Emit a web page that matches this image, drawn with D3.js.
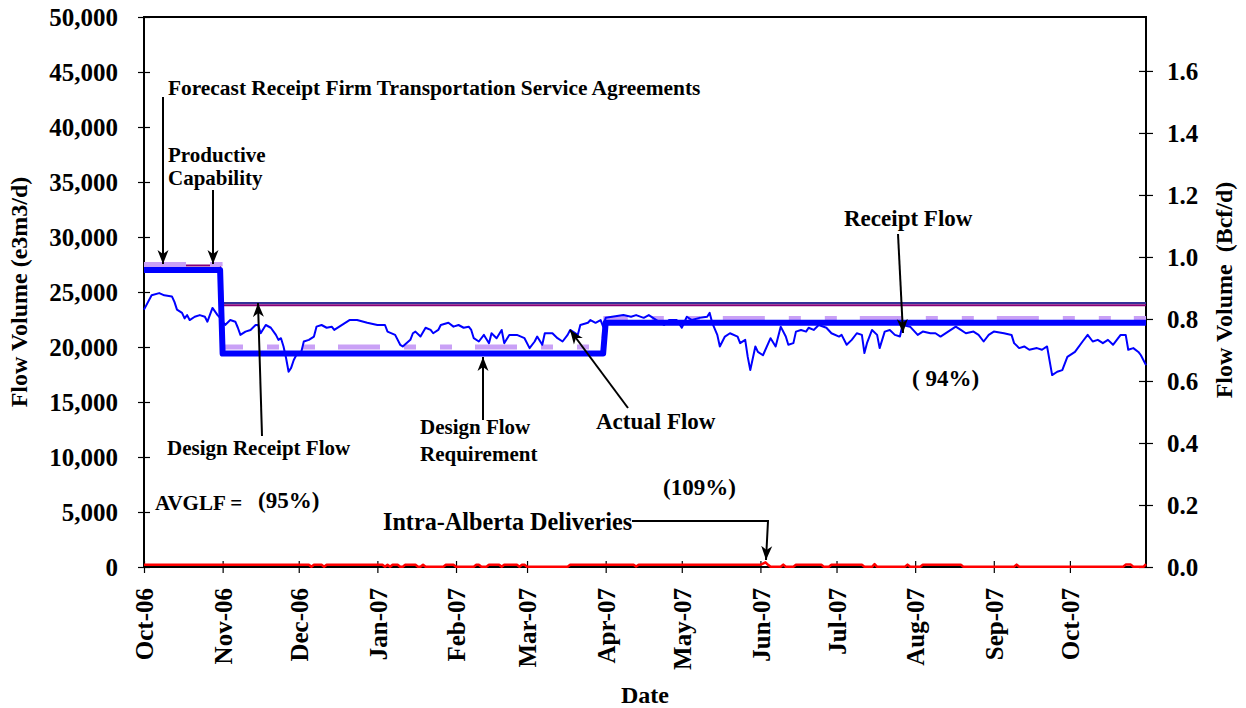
<!DOCTYPE html>
<html><head><meta charset="utf-8">
<script src="https://cdn.jsdelivr.net/npm/d3@7"></script>
<style>
body{margin:0;background:#fff}
text{font-family:"Liberation Serif","Times New Roman",serif;font-weight:bold;fill:#000}
</style>
</head><body>
<svg id="chart" width="1246" height="708"></svg>
<script>
// ---------- DATA (day = days since 1 Oct 2006) ----------
const startDate = "2006-10-01";
const endDate = "2007-10-31";
const monthTicks = ["2006-10-01","2006-11-01","2006-12-01","2007-01-01","2007-02-01","2007-03-01","2007-04-01","2007-05-01","2007-06-01","2007-07-01","2007-08-01","2007-09-01","2007-10-01"];
const leftTicks = [0,5000,10000,15000,20000,25000,30000,35000,40000,45000,50000];
const rightTicks = [0,0.2,0.4,0.6,0.8,1.0,1.2,1.4,1.6];

// Design receipt flow / design flow requirement (thick blue step)
const designDay   = [0, 30, 31, 181, 182, 395];
const designValue = [27000, 27000, 19400, 19400, 22200, 22200];

// Forecast receipt firm transportation service agreements (lavender dashed)
const forecastDay   = [0, 30, 31, 181, 182, 395];
const forecastValue = [27500, 27500, 20000, 20000, 22600, 22600];

// Productive capability (purple) and receipt capacity (navy)
const productiveDay   = [0, 30, 31, 395];
const productiveValue = [27400, 27400, 23800, 23800];
const capacityDay   = [31, 395];
const capacityValue = [24000, 24000];

// Actual flow (thin blue)
const actualDay = [0,3,6,8,11,12,13,15,16,17,18,20,22,24,25,27,29,30,32,34,36,37,38,40,42,44,45,46,48,50,52,53,54,55,56,57,58,59,60,62,63,65,67,68,70,72,74,75,77,81,84,88,92,95,96,99,101,102,105,106,107,109,111,113,114,116,117,120,122,124,126,128,129,130,132,134,136,137,139,141,142,144,147,150,152,154,155,157,158,161,163,165,167,168,171,172,175,176,178,180,181,182,189,192,194,197,199,202,205,207,210,212,214,216,219,222,223,224,226,227,229,231,234,235,237,238,239,241,242,244,247,249,251,253,254,256,257,259,261,262,264,266,269,271,274,275,277,279,281,283,284,285,287,289,290,292,294,296,298,299,302,305,307,310,312,314,317,320,322,324,327,329,331,333,335,339,342,343,345,347,349,352,354,356,358,360,362,364,367,370,372,374,376,378,380,382,385,387,388,390,392,393,395];
const actualValue = [23400,24700,24900,24700,24600,24100,23400,23100,22600,22900,22450,22750,22900,22750,22300,23550,22900,22650,22000,22450,22300,21750,21100,21400,21550,22000,22000,21250,22000,21750,21100,20650,20800,20050,19000,17750,18100,18800,19250,19550,20500,20650,20950,21850,22000,21750,21850,21550,21850,22450,22450,22200,22000,22000,21400,21100,20200,20050,20650,21250,21400,20950,21750,21550,21250,21550,22000,22200,21850,22000,21750,21850,21550,20800,20500,21100,20350,21250,20800,21550,20350,21100,21100,20800,19900,20500,20950,20200,21250,21250,20800,20500,21100,21550,21100,22000,22200,22450,22200,22450,21850,22650,22900,22750,22900,22650,22900,22450,22000,22450,22450,21750,22750,22450,22650,22750,23100,22200,21100,20050,20950,21250,20950,20350,20650,19100,17900,20050,19550,19250,20800,20050,21850,20950,20200,20350,21400,21550,21400,21750,21550,22000,21750,21250,20950,21100,20200,20650,21250,21100,19450,20350,21550,21100,19900,21400,21550,21100,20950,22000,21850,21100,21400,21250,21250,20950,21400,21850,21550,21250,21400,21100,20500,21100,21400,21250,21100,20350,19900,20050,19750,19900,19750,20050,17450,17750,17900,19100,19550,20500,21100,20500,20650,20350,20650,20200,21100,21100,19750,19900,19550,19250,18350];

// Intra-Alberta deliveries (red)
const intraDay   = [0,65,66,67,70,71,72,94,95,96,97,98,100,101,102,103,107,108,109,110,111,118,119,122,123,130,131,132,133,135,136,140,141,142,147,148,149,150,151,167,168,193,194,195,243,245,246,247,250,251,252,253,256,257,267,268,270,271,283,284,287,288,289,300,301,302,306,307,322,323,343,344,345,386,387,389,390,394,395];
const intraValue = [200,200,20,200,200,20,200,200,20,200,20,200,200,20,20,200,200,20,20,200,20,20,200,200,20,20,200,200,20,20,200,200,20,200,200,20,200,200,20,20,200,200,40,200,200,420,200,20,20,20,220,20,20,200,200,20,20,200,200,20,20,260,20,20,220,20,20,200,200,20,20,220,20,20,220,220,20,20,260];

// ---------- CHART ----------
const svg = d3.select("#chart");
const parse = d3.timeParse("%Y-%m-%d");
const t0 = parse(startDate);
const dayDate = d => d3.timeDay.offset(t0, d);

const L = 144, R = 1146, T = 17, B = 567;
const x = d3.scaleTime().domain([t0, parse(endDate)]).range([L, R]);
const y = d3.scaleLinear().domain([0, 50000]).range([B, T]);
const yR = d3.scaleLinear().domain([0, 1.774]).range([B, T]);

const FS_TICK = 25;

// frame
svg.append("rect").attr("x", L).attr("y", T).attr("width", R - L).attr("height", B - T)
  .attr("fill", "none").attr("stroke", "#000").attr("stroke-width", 2);

// left axis
const gL = svg.append("g").attr("transform", `translate(${L},0)`)
  .call(d3.axisLeft(y).tickValues(leftTicks).tickFormat(d3.format(",")).tickSize(6));
gL.select(".domain").remove();
gL.selectAll(".tick line").attr("x1", -6).attr("x2", 6).attr("stroke", "#000").attr("stroke-width", 1.2);
gL.selectAll(".tick text").attr("x", -26).attr("dy", "0.35em").style("font-size", FS_TICK + "px")
  .style("font-family", "'Liberation Serif', serif").style("font-weight", "bold").attr("fill", "#000");

// right axis
const gR = svg.append("g").attr("transform", `translate(${R},0)`)
  .call(d3.axisRight(yR).tickValues(rightTicks).tickFormat(d3.format(".1f")).tickSize(6));
gR.select(".domain").remove();
gR.selectAll(".tick line").attr("x1", -7).attr("x2", 7).attr("stroke", "#000").attr("stroke-width", 1.2);
gR.selectAll(".tick text").attr("x", 21).attr("dy", "0.35em").style("font-size", FS_TICK + "px")
  .style("font-family", "'Liberation Serif', serif").style("font-weight", "bold").attr("fill", "#000");

// bottom axis
const gB = svg.append("g").attr("transform", `translate(0,${B})`)
  .call(d3.axisBottom(x).tickValues(monthTicks.map(parse)).tickFormat(d3.timeFormat("%b-%y")).tickSize(6));
gB.select(".domain").remove();
gB.selectAll(".tick line").attr("y1", -6).attr("y2", 6).attr("stroke", "#000").attr("stroke-width", 1.2);
gB.selectAll(".tick text").attr("y", 0).attr("dy", "0.35em")
  .attr("transform", "translate(0,21) rotate(-90)").attr("text-anchor", "end")
  .style("font-size", FS_TICK + "px").style("font-family", "'Liberation Serif', serif")
  .style("font-weight", "bold").attr("fill", "#000");

// axis titles
svg.append("text").attr("transform", "translate(27,292) rotate(-90)").attr("text-anchor", "middle")
  .style("font-size", "24px").text("Flow Volume (e3m3/d)");
svg.append("text").attr("transform", "translate(1232,290) rotate(-90)").attr("text-anchor", "middle")
  .style("font-size", "24px").style("white-space", "pre").text("Flow Volume  (Bcf/d)");
svg.append("text").attr("x", 645).attr("y", 703).attr("text-anchor", "middle")
  .style("font-size", "24px").text("Date");

// series
const mk = (days, vals) => days.map((d, i) => [dayDate(d), vals[i]]);
const line = d3.line().x(d => x(d[0])).y(d => y(d[1]));

const gS = svg.append("g");
gS.append("path").datum(mk(intraDay, intraValue)).attr("d", line)
  .attr("fill", "none").attr("stroke", "#ff0000").attr("stroke-width", 2.5).attr("stroke-linejoin", "round");
gS.append("path").datum(mk(capacityDay, capacityValue)).attr("d", line)
  .attr("fill", "none").attr("stroke", "#333399").attr("stroke-width", 2);
gS.append("path").datum(mk(productiveDay, productiveValue)).attr("d", line)
  .attr("fill", "none").attr("stroke", "#880077").attr("stroke-width", 2);
gS.append("path").datum(mk(forecastDay, forecastValue)).attr("d", line)
  .attr("fill", "none").attr("stroke", "#c9a0f6").attr("stroke-width", 5)
  .attr("stroke-dasharray", "42,24,12,24,12,23");
gS.append("path").datum(mk(designDay, designValue)).attr("d", line)
  .attr("fill", "none").attr("stroke", "#0000ff").attr("stroke-width", 6).attr("stroke-linejoin", "round");
gS.append("path").datum(mk(actualDay, actualValue)).attr("d", line)
  .attr("fill", "none").attr("stroke", "#0000ff").attr("stroke-width", 2).attr("stroke-linejoin", "round");

// arrow marker
const defs = svg.append("defs");
defs.append("marker").attr("id", "ah").attr("markerUnits", "userSpaceOnUse")
  .attr("viewBox", "-14 -7 16 14").attr("refX", 0).attr("refY", 0)
  .attr("markerWidth", 16).attr("markerHeight", 14).attr("orient", "auto")
  .append("path").attr("d", "M0,0 L-14,-5.5 L-10,0 L-14,5.5 Z").attr("fill", "#000");

const arrows = [
  [[163, 97], [163, 264]],
  [[213, 190], [213, 264]],
  [[262, 436], [258, 303]],
  [[483, 420], [483, 357]],
  [[628, 408], [570, 330]],
  [[898, 234], [903, 333]],
  [[632, 521], [768, 521], [766, 560]]
];
const gA = svg.append("g");
arrows.forEach(pts => {
  gA.append("path").attr("d", d3.line()(pts)).attr("fill", "none")
    .attr("stroke", "#000").attr("stroke-width", 2).attr("marker-end", "url(#ah)");
});

// annotations
const notes = [
  ["Forecast Receipt Firm Transportation Service Agreements", 168, 95, 21.4],
  ["Productive", 168, 162, 21],
  ["Capability", 168, 185, 21],
  ["Receipt Flow", 844, 226, 23],
  ["( 94%)", 912, 386, 23],
  ["Design Receipt Flow", 167, 455, 21],
  ["Design Flow", 420, 434, 21],
  ["Requirement", 420, 461, 21],
  ["Actual Flow", 596, 429, 23],
  ["(109%)", 663, 495, 23],
  ["AVGLF =", 155, 510, 21],
  ["(95%)", 258, 508, 23],
  ["Intra-Alberta Deliveries", 383, 530, 24.2]
];
const gN = svg.append("g");
notes.forEach(([s, tx, ty, fs]) => {
  gN.append("text").attr("x", tx).attr("y", ty).style("font-size", fs + "px")
    .style("white-space", "pre").text(s);
});
</script>
</body></html>
